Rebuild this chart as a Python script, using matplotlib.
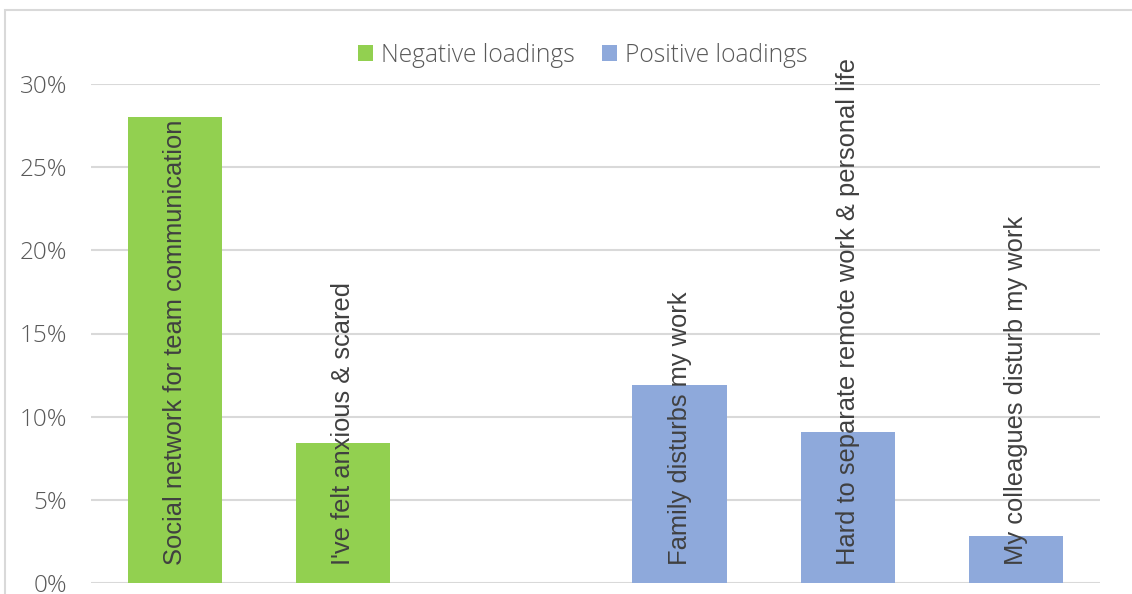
import matplotlib
matplotlib.use("Agg")
import matplotlib.pyplot as plt
from matplotlib.patches import Patch, Rectangle
from matplotlib.ticker import FuncFormatter

# Loadings by statement (the fourth slot separates the two groups)
labels = [
    "Social network for team communication",
    "I've felt anxious & scared",
    "",
    "Family disturbs my work",
    "Hard to separate remote work & personal life",
    "My colleagues disturb my work",
]
negative = [0.28, 0.084, None, None, None, None]
positive = [None, None, None, 0.119, 0.091, 0.028]
series_names = ["Negative loadings", "Positive loadings"]
yticks = [0.0, 0.05, 0.10, 0.15, 0.20, 0.25, 0.30]

GREEN = "#92D050"
BLUE = "#8EA9DB"
GRID = "#D9D9D9"
TICK_COLOR = "#595959"
LABEL_COLOR = "#404040"

fig = plt.figure(figsize=(11.32, 5.94), dpi=100)
ax = fig.add_axes([91 / 1132, 1 - 583 / 594, (1100 - 91) / 1132, (583 - 84) / 594])

x = list(range(len(labels)))
width = 0.56
for xi, v in zip(x, negative):
    if v is not None:
        ax.bar(xi, v, width=width, color=GREEN, zorder=2)
for xi, v in zip(x, positive):
    if v is not None:
        ax.bar(xi, v, width=width, color=BLUE, zorder=2)

# statement text written upward from the base of each bar
for xi, lab in zip(x, labels):
    if lab:
        ax.text(xi, 0.011, lab, rotation=90, ha="center", va="bottom",
                fontsize=18.4, family="Liberation Sans", color=LABEL_COLOR,
                zorder=3, clip_on=False)

ax.set_xlim(-0.5, len(labels) - 0.5)
ax.set_ylim(0, 0.30)
ax.set_yticks(yticks)
ax.yaxis.set_major_formatter(FuncFormatter(lambda v, _: f"{v * 100:.0f}%"))
ax.set_xticks([])
ax.tick_params(axis="y", length=0, pad=17, labelsize=17.5, labelcolor=TICK_COLOR)
for t in ax.get_yticklabels():
    t.set_family("Open Sans")
    t.set_fontweight("light")
ax.grid(axis="y", color=GRID, linewidth=1.5, zorder=0)
ax.set_axisbelow(True)
for s in ax.spines.values():
    s.set_visible(False)

handles = [Patch(facecolor=GREEN, edgecolor="none"), Patch(facecolor=BLUE, edgecolor="none")]
leg = fig.legend(handles, series_names, loc="center", bbox_to_anchor=(0.515, 1 - 55 / 594),
                 ncol=2, frameon=False, handlelength=0.6, handleheight=0.6,
                 handletextpad=0.35, columnspacing=1.1,
                 prop={"family": "Open Sans", "size": 17.7, "weight": "light"})
for t in leg.get_texts():
    t.set_color(TICK_COLOR)

# chart border
fig.add_artist(Rectangle((5 / 1132, -0.01), 1.2, 1 - 10 / 594 + 0.01,
                         transform=fig.transFigure, fill=False,
                         edgecolor=GRID, linewidth=1.5))

fig.savefig("out.png", dpi=100)
